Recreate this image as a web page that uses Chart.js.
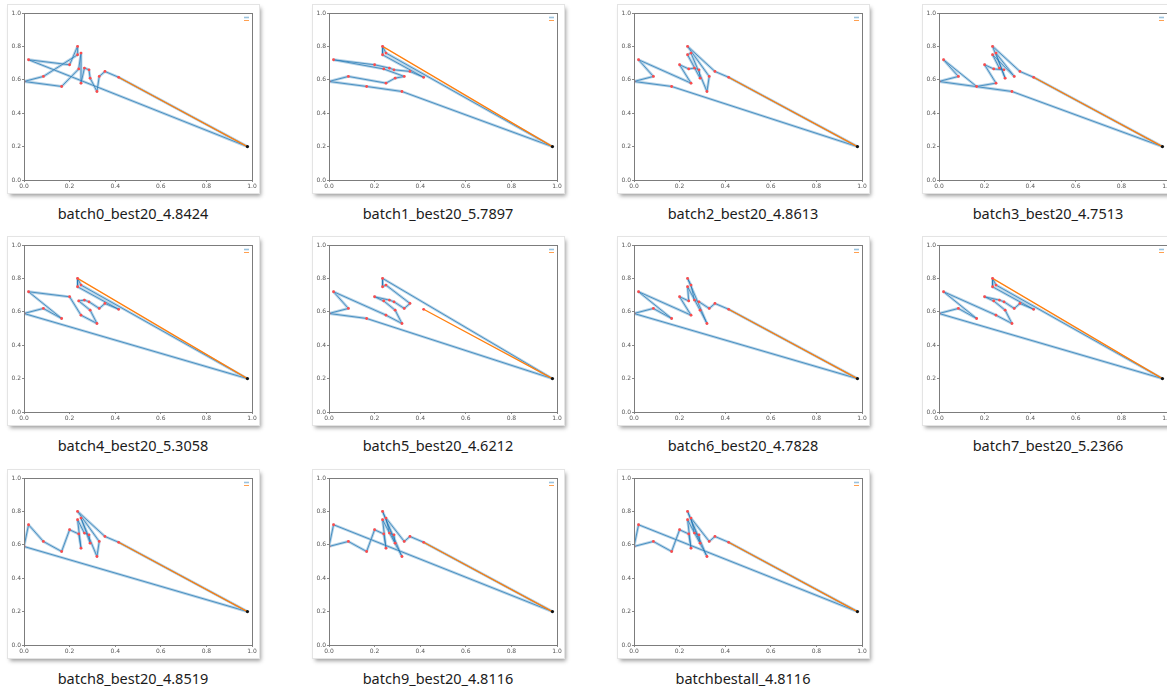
<!DOCTYPE html>
<html>
<head>
<meta charset="utf-8">
<script src="https://cdn.jsdelivr.net/npm/chart.js@4.4.1/dist/chart.umd.min.js"></script>
<style>
  html, body { margin: 0; padding: 0; background: #ffffff; overflow: hidden; }
  body { width: 1167px; height: 689px; position: relative; }
  .card { position: absolute; width: 251px; height: 188px; background: #fff;
          box-shadow: 0 0 0 1px #e4e4e4, 2px 3px 4px rgba(0,0,0,0.38); }
  .card canvas { position: absolute; left: 0; top: 0; }
  .cap { position: absolute; width: 300px; text-align: center; font-family: "Noto Sans", "Open Sans", sans-serif;
         font-size: 14.5px; color: #1b1b1b; line-height: 18px; }
</style>
</head>
<body>
<script>
// ---- city coordinates (index 0 = depot) ----
const cityX = [0.98, 0.0, 0.02, 0.085, 0.165, 0.20, 0.235, 0.235, 0.25, 0.24, 0.25, 0.265, 0.285, 0.29, 0.32, 0.33, 0.355, 0.415];
const cityY = [0.20, 0.59, 0.72, 0.62, 0.56, 0.69, 0.80, 0.75, 0.76, 0.665, 0.58, 0.67, 0.66, 0.61, 0.53, 0.62, 0.65, 0.615];

// ---- captions ----
const captions = ["batch0_best20_4.8424", "batch1_best20_5.7897", "batch2_best20_4.8613", "batch3_best20_4.7513",
                  "batch4_best20_5.3058", "batch5_best20_4.6212", "batch6_best20_4.7828", "batch7_best20_5.2366",
                  "batch8_best20_4.8519", "batch9_best20_4.8116", "batchbestall_4.8116"];

// ---- tours (city indices, blue) ----
const route0 = [0,17,16,15,14,13,12,11,10,8,9,4,1,3,7,6,5,2,0];
const route1 = [0,8,6,7,17,16,12,11,5,2,9,15,13,10,3,1,4,14,0];
const route2 = [0,17,16,6,15,14,8,7,13,12,11,9,5,10,2,3,1,4,0];
const route3 = [0,17,16,6,13,8,15,7,11,12,9,5,10,4,2,3,1,14,0];
const route4 = [0,8,6,7,17,16,15,12,11,9,13,14,10,5,2,4,3,1,0];
const route5 = [0,6,7,8,16,15,12,11,5,9,13,14,10,2,3,1,4,0];
const route6 = [0,17,16,15,12,11,8,6,14,13,7,9,5,10,2,4,3,1,0];
const route7 = [0,8,6,7,17,16,15,12,11,5,9,13,14,10,2,4,3,1,0];
const route8 = [0,17,16,6,15,14,8,13,12,11,7,10,9,5,4,3,2,1,0];
const route9 = [0,17,16,15,8,11,12,13,6,14,7,10,9,5,4,3,1,2,0];
const routeAll = [0,17,16,15,8,11,12,13,6,14,7,10,9,5,4,3,1,2,0];
const routes = [route0, route1, route2, route3, route4, route5, route6, route7, route8, route9, routeAll];

// ---- orange first leg: city joined to the depot ----
const orangeCity = [17, 6, 17, 17, 6, 17, 17, 6, 17, 17, 17];

// ---- axis ticks ----
const tickValues = [0.0, 0.2, 0.4, 0.6, 0.8, 1.0];

const pt = i => ({ x: cityX[i], y: cityY[i] });

const framePlugin = {
  id: 'frame',
  afterDatasetsDraw(chart) {
    const a = chart.chartArea, c = chart.ctx;
    c.save();
    c.strokeStyle = '#7c7c7c'; c.lineWidth = 1;
    c.strokeRect(Math.round(a.left) + 0.5, Math.round(a.top) + 0.5, Math.round(a.right - a.left), Math.round(a.bottom - a.top));
    // tiny legend (top right)
    const lx = a.right - 10, ly = a.top + 2;
    c.strokeStyle = 'rgba(31,119,180,0.45)'; c.lineWidth = 1.6;
    c.beginPath(); c.moveTo(lx + 2, ly + 2.5); c.lineTo(lx + 7, ly + 2.5); c.stroke();
    c.strokeStyle = '#ffa050'; c.lineWidth = 1;
    c.beginPath(); c.moveTo(lx + 2, ly + 5.5); c.lineTo(lx + 7, ly + 5.5); c.stroke();
    c.restore();
  }
};

function axis(isX) {
  return {
    type: 'linear', min: 0, max: 1,
    afterBuildTicks(ax) { ax.ticks = tickValues.map(v => ({ value: v })); },
    ticks: { autoSkip: false, maxRotation: 0, padding: 1, color: '#555', font: { size: 6, family: 'DejaVu Sans' },
             callback: v => Number(v).toFixed(1) },
    grid: { drawOnChartArea: false, drawTicks: true, tickLength: 2, color: '#888' },
    border: { display: true, color: '#7c7c7c', width: 1 },
    afterFit(ax) { if (isX) ax.height = 13; else ax.width = 16; }
  };
}

const cardLeft = [8, 313, 618, 923];
const cardTop = [5, 237, 470];

routes.forEach((route, i) => {
  const col = i % 4, row = Math.floor(i / 4);
  const card = document.createElement('div');
  card.className = 'card';
  card.style.left = cardLeft[col] + 'px';
  card.style.top = cardTop[row] + 'px';
  const cv = document.createElement('canvas');
  cv.width = 251; cv.height = 188;
  cv.style.width = '251px'; cv.style.height = '188px';
  card.appendChild(cv);
  document.body.appendChild(card);

  const cap = document.createElement('div');
  cap.className = 'cap';
  cap.textContent = captions[i];
  cap.style.left = (cardLeft[col] + 125 - 150) + 'px';
  cap.style.top = (cardTop[row] + 188 + 11) + 'px';
  document.body.appendChild(cap);

  const tour = route.map(pt);
  const cities = cityX.map((_, k) => k).filter(k => k > 0).map(pt);
  const lineStyle = { showLine: true, pointRadius: 0, borderJoinStyle: 'round', borderCapStyle: 'round' };

  new Chart(cv, {
    type: 'scatter',
    data: {
      datasets: [
        { data: [pt(0)], pointRadius: 1.6, pointBackgroundColor: '#111', pointBorderWidth: 0, showLine: false },
        { data: cities, pointRadius: 1.4, pointBackgroundColor: '#ff4b4b', pointBorderWidth: 0, showLine: false },
        Object.assign({ data: [pt(orangeCity[i]), pt(0)], borderColor: '#ff7f0e', borderWidth: 1.3 }, lineStyle),
        Object.assign({ data: tour, borderColor: 'rgba(31,119,180,0.9)', borderWidth: 0.8 }, lineStyle),
        Object.assign({ data: tour, borderColor: 'rgba(31,119,180,0.32)', borderWidth: 2.8 }, lineStyle)
      ]
    },
    options: {
      responsive: false, animation: false, devicePixelRatio: 1,
      layout: { padding: { top: 8, right: 7, left: 0, bottom: 0 } },
      plugins: { legend: { display: false }, tooltip: { enabled: false } },
      scales: { x: axis(true), y: axis(false) }
    },
    plugins: [framePlugin]
  });
});
</script>
</body>
</html>
